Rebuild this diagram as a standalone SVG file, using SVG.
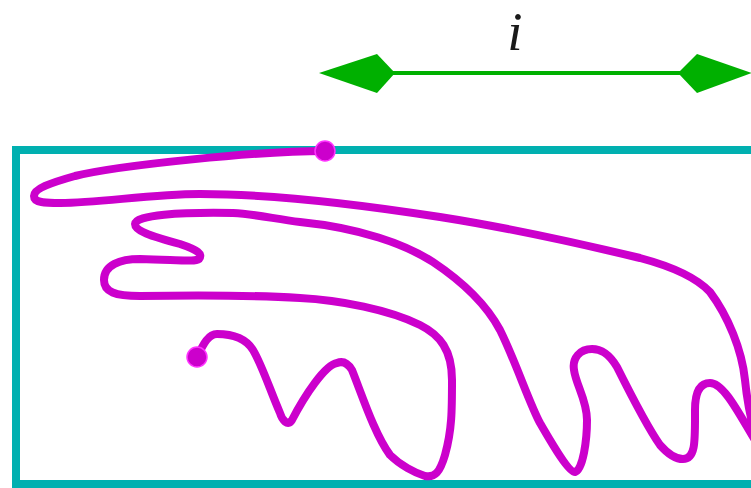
<svg xmlns="http://www.w3.org/2000/svg" width="751" height="488" viewBox="0 0 751 488">
<style>
.box{fill:none;stroke:#00b0b0;stroke-width:8}
.curve{fill:none;stroke:#cc00cc;stroke-width:8;stroke-linecap:round;stroke-linejoin:round}
.dot{fill:#cc00cc;stroke:#ff33ff;stroke-width:1.5}
.arrow{stroke:#00b000;stroke-width:4;fill:none}
.head{fill:#00b000}
.lbl{font-family:"Liberation Serif","DejaVu Serif",serif;font-style:italic;font-size:55px;fill:#1a1a1a}
</style>
<rect width="751" height="488" fill="#ffffff"/>
<g id="box">
<rect class="box" x="16" y="150" width="800" height="334"/>
</g>
<g id="curve">
<path class="curve" d="M325,151 C260,151 120,165 75,176 C50,183 34,189 34,196 C34,203 45,203 60,203 C100,203 150,194 200,194 C280,194 370,206 440,217 C510,228 590,246 640,258 C670,266 695,276 710,292 C728,316 742,350 745,380 C747,400 752,425 758,445 C742,420 725,383 710,383 C698,383 695,395 695,410 C695,440 696,459 683,459 C675,459 667,453 660,445 C648,428 626,385 617,367 C608,352 600,349 592,349 C580,349 572,358 574,370 C576,385 587,400 587,420 C587,440 583,470 575,472 C568,472 550,440 540,423 C530,405 515,360 500,330 C485,302 460,280 433,262 C405,244 360,228 300,222 C275,219 255,214 233,213 C180,212 135,215 135,224 C135,231 150,236 180,244 C198,250 203,254 199,259 C195,262 180,260 140,259 C120,259 104,265 104,280 C104,292 115,296 140,296 C200,295 250,295 300,298 C340,300 390,310 420,325 C440,335 452,350 452,380 C452,410 452,430 445,455 C440,472 435,478 425,476 C415,473 400,465 390,455 C375,435 362,395 352,370 C347,362 342,361 337,363 C325,365 305,395 292,420 C288,427 282,420 280,413 C270,390 262,365 253,350 C245,337 230,334 217,334 C208,334 203,345 197,357"/>
<circle class="dot" cx="325" cy="151" r="10"/>
<circle class="dot" cx="197" cy="357" r="10"/>
</g>
<g id="connectors">
<line class="arrow" x1="390" y1="73" x2="684" y2="73"/>
<polygon class="head" points="319,73 377,54 395,73 377,93"/>
<polygon class="head" points="752,73 697,54 678,73 697,93"/>
</g>
<g id="label">
<text class="lbl" x="515" y="50" text-anchor="middle">i</text>
</g>
</svg>
